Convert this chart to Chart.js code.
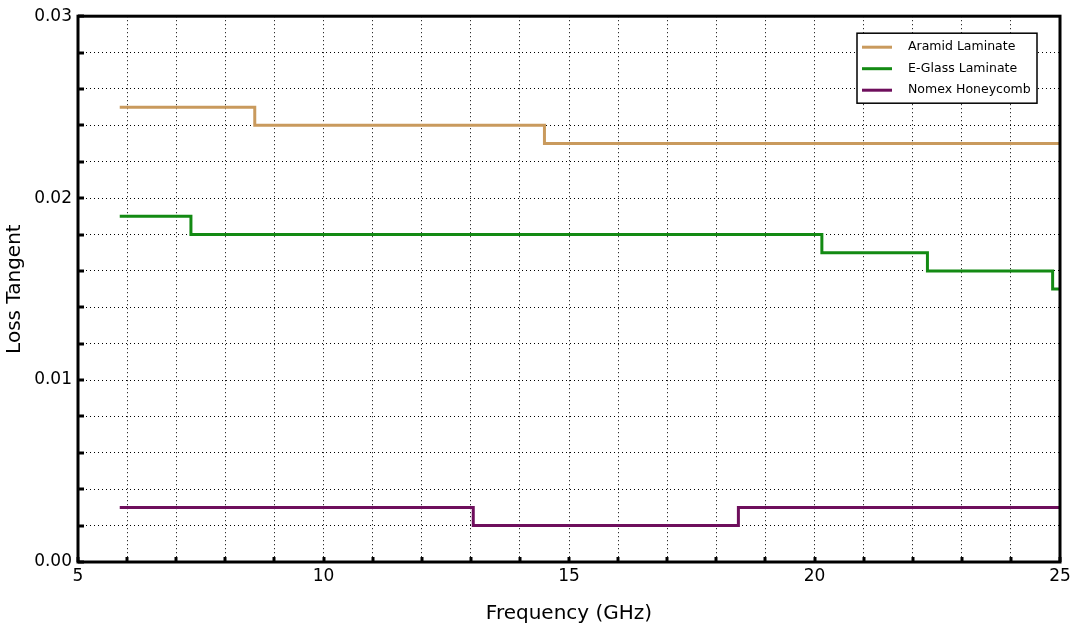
<!DOCTYPE html>
<html>
<head>
<meta charset="utf-8">
<script src="https://cdn.jsdelivr.net/npm/chart.js@4.4.1/dist/chart.umd.min.js"></script>
<style>
  html, body { margin: 0; padding: 0; background: #fff; }
  #wrap { width: 1075px; height: 630px; }
</style>
</head>
<body>
<div id="wrap"><canvas id="lossChart"></canvas></div>
<script>
// dados (frequência em GHz, tangente de perda)
// cada valor vale a partir da sua frequência até a próxima
const seriesNames = ['Aramid Laminate', 'E-Glass Laminate', 'Nomex Honeycomb'];
const aramidFreq = [5.85, 8.6, 14.5, 25];
const aramidLoss = [0.025, 0.024, 0.023, 0.023];
const eglassFreq = [5.85, 7.3, 20.15, 22.3, 24.85, 25];
const eglassLoss = [0.019, 0.018, 0.017, 0.016, 0.015, 0.015];
const nomexFreq = [5.85, 13.05, 18.45, 25];
const nomexLoss = [0.003, 0.002, 0.003, 0.003];
const xTickLabels = [5, 10, 15, 20, 25];
const yTickLabels = [0.00, 0.01, 0.02, 0.03];

const colors = ['#c99a5d', '#138a13', '#6e0e5c'];

function toPoints(xs, ys) {
    return xs.map(function(x, i) { return { x: x, y: ys[i] }; });
}

// moldura preta, marcas de escala para dentro e legenda com borda
const framePlugin = {
    id: 'frame',
    afterDatasetsDraw: function(chart) {
        const ctx = chart.ctx;
        const a = chart.chartArea;
        const xs = chart.scales.x, ys = chart.scales.y;
        ctx.save();
        ctx.strokeStyle = '#000';
        ctx.lineWidth = 3;
        // marcas
        xs.ticks.forEach(function(t) {
            const px = Math.round(xs.getPixelForValue(t.value));
            ctx.beginPath(); ctx.moveTo(px, a.bottom); ctx.lineTo(px, a.bottom - 5); ctx.stroke();
        });
        ys.ticks.forEach(function(t) {
            const py = Math.round(ys.getPixelForValue(t.value));
            ctx.beginPath(); ctx.moveTo(a.left, py); ctx.lineTo(a.left + 6, py); ctx.stroke();
        });
        ctx.strokeRect(a.left, a.top, a.right - a.left, a.bottom - a.top);

        // legenda
        const bx = a.right - 203, by = a.top + 17, bw = 180, bh = 70;
        ctx.fillStyle = '#fff';
        ctx.fillRect(bx, by, bw, bh);
        ctx.lineWidth = 1.5;
        ctx.strokeRect(bx, by, bw, bh);
        ctx.font = '12.5px "DejaVu Sans"';
        ctx.textBaseline = 'middle';
        chart.data.datasets.forEach(function(ds, i) {
            const cy = by + 14 + i * 21.5;
            ctx.strokeStyle = ds.borderColor;
            ctx.lineWidth = 3;
            ctx.beginPath(); ctx.moveTo(bx + 5, cy); ctx.lineTo(bx + 35, cy); ctx.stroke();
            ctx.fillStyle = '#000';
            ctx.fillText(ds.label, bx + 51, cy);
        });
        ctx.restore();
    }
};

document.addEventListener('DOMContentLoaded', function() {
    const canvasElement = document.getElementById('lossChart');
    const ctx = canvasElement.getContext('2d');

    const allSeries = [
        toPoints(aramidFreq, aramidLoss),
        toPoints(eglassFreq, eglassLoss),
        toPoints(nomexFreq, nomexLoss)
    ];

    new Chart(ctx, {
        type: 'line',
        data: {
            datasets: allSeries.map(function(pts, i) {
                return {
                    label: seriesNames[i],
                    data: pts,
                    borderColor: colors[i],
                    borderWidth: 3,
                    stepped: true,
                    pointRadius: 0,
                    fill: false
                };
            })
        },
        options: {
            responsive: true,
            maintainAspectRatio: false,
            animation: false,
            layout: { padding: { top: 16, right: 15, left: 0, bottom: 0 } },
            plugins: {
                legend: { display: false },
                tooltip: { enabled: false }
            },
            scales: {
                x: {
                    type: 'linear',
                    min: 5,
                    max: 25,
                    afterFit: function(scale) { scale.height = 68; },
                    grid: { color: '#000', lineWidth: 1, drawTicks: false },
                    border: { display: false, dash: [1, 3] },
                    ticks: {
                        stepSize: 1,
                        padding: 4,
                        color: '#000',
                        font: { family: 'DejaVu Sans', size: 17 },
                        autoSkip: false,
                        maxRotation: 0,
                        callback: function(v) {
                            return xTickLabels.indexOf(v) >= 0 ? String(v) : '';
                        }
                    },
                    title: {
                        display: true,
                        text: 'Frequency (GHz)',
                        color: '#000',
                        font: { family: 'DejaVu Sans', size: 20 },
                        padding: { top: 6 }
                    }
                },
                y: {
                    min: 0,
                    max: 0.03,
                    afterFit: function(scale) { scale.width = 78; },
                    grid: { color: '#000', lineWidth: 1, drawTicks: false },
                    border: { display: false, dash: [1, 3] },
                    ticks: {
                        stepSize: 0.002,
                        padding: 6,
                        color: '#000',
                        font: { family: 'DejaVu Sans', size: 17 },
                        autoSkip: false,
                        callback: function(v) {
                            const hit = yTickLabels.some(function(t) { return Math.abs(t - v) < 1e-9; });
                            return hit ? v.toFixed(2) : '';
                        }
                    },
                    title: {
                        display: true,
                        text: 'Loss Tangent',
                        color: '#000',
                        font: { family: 'DejaVu Sans', size: 20 },
                        padding: { top: 3, bottom: 2 }
                    }
                }
            }
        },
        plugins: [framePlugin]
    });
});
</script>
</body>
</html>
